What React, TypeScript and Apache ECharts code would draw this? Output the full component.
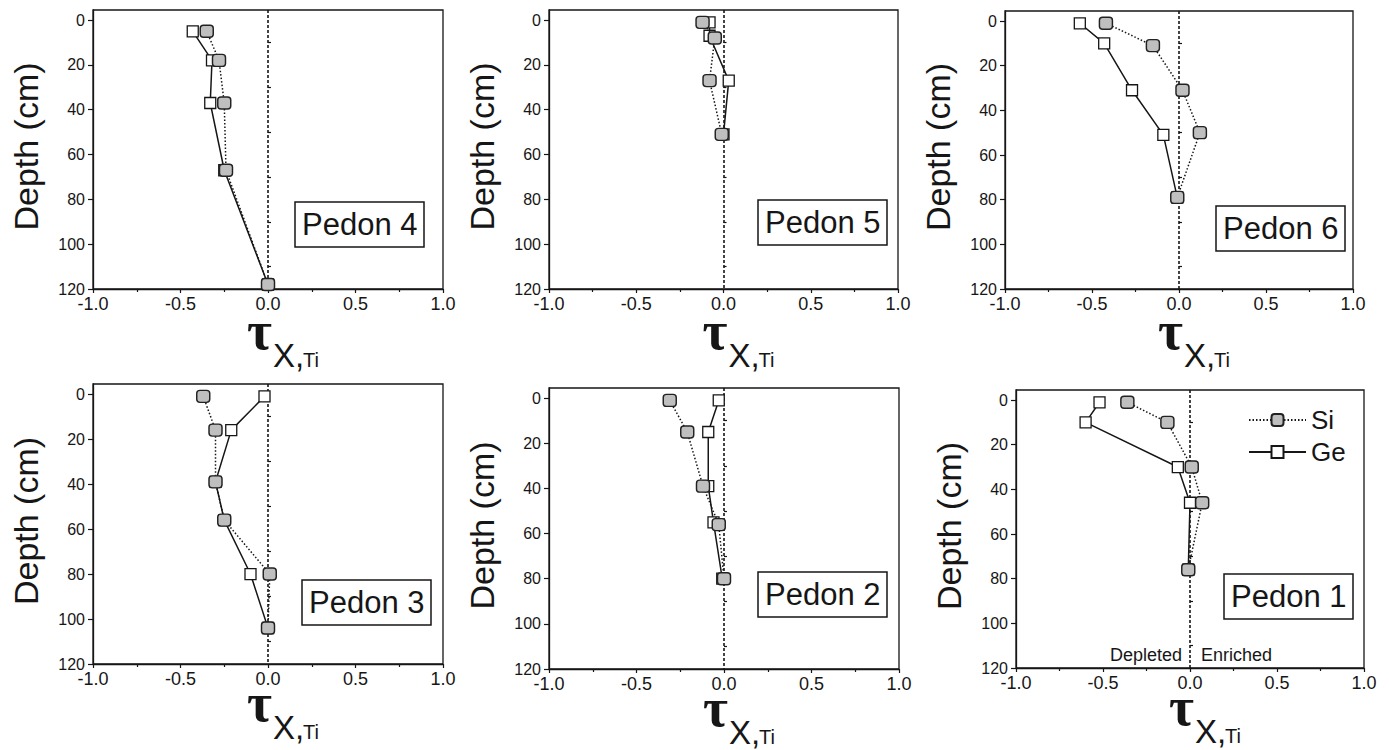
import React, { useEffect, useRef } from "react";
import * as echarts from "echarts";

// ---- data (tau X,Ti vs depth in cm) ----
const pedon4Si = [[-0.35, 5], [-0.28, 18], [-0.25, 37], [-0.24, 67], [0.0, 118]];
const pedon4Ge = [[-0.43, 5], [-0.32, 18], [-0.33, 37], [-0.25, 67], [0.0, 118]];

const pedon5Si = [[-0.12, 1], [-0.05, 8], [-0.08, 27], [-0.01, 51]];
const pedon5Ge = [[-0.08, 1], [-0.08, 7], [0.03, 27], [0.0, 51]];

const pedon6Si = [[-0.42, 1], [-0.15, 11], [0.02, 31], [0.12, 50], [-0.01, 79]];
const pedon6Ge = [[-0.57, 1], [-0.43, 10], [-0.27, 31], [-0.09, 51], [-0.01, 79]];

const pedon3Si = [[-0.37, 1], [-0.3, 16], [-0.3, 39], [-0.25, 56], [0.01, 80], [0.0, 104]];
const pedon3Ge = [[-0.02, 1], [-0.21, 16], [-0.3, 39], [-0.25, 56], [-0.1, 80], [0.0, 104]];

const pedon2Si = [[-0.31, 1], [-0.21, 15], [-0.12, 39], [-0.03, 56], [0.0, 80]];
const pedon2Ge = [[-0.03, 1], [-0.09, 15], [-0.09, 39], [-0.06, 55], [-0.01, 80]];

const pedon1Si = [[-0.36, 1], [-0.13, 10], [0.01, 30], [0.07, 46], [-0.01, 76]];
const pedon1Ge = [[-0.52, 1], [-0.6, 10], [-0.07, 30], [0.0, 46], [-0.01, 76]];

const Y_LABELS = [0, 20, 40, 60, 80, 100, 120];
const Y_MINOR = [10, 30, 50, 70, 90, 110];
const X_MIN = -1;
const X_MAX = 1;
const X_STEP = 0.5;
const Y_MIN = -4.5;
const Y_MAX = 120;

const panels = [
  { name: "Pedon 4", si: pedon4Si, ge: pedon4Ge, grid: { left: 93, top: 10, width: 350, height: 279 }, box: { left: 295, top: 202 } },
  { name: "Pedon 5", si: pedon5Si, ge: pedon5Ge, grid: { left: 549, top: 10, width: 349, height: 279 }, box: { left: 758, top: 200 } },
  { name: "Pedon 6", si: pedon6Si, ge: pedon6Ge, grid: { left: 1005, top: 11, width: 348, height: 278 }, box: { left: 1216, top: 206 } },
  { name: "Pedon 3", si: pedon3Si, ge: pedon3Ge, grid: { left: 93, top: 384, width: 350, height: 280 }, box: { left: 302, top: 580 } },
  { name: "Pedon 2", si: pedon2Si, ge: pedon2Ge, grid: { left: 549, top: 388, width: 350, height: 281 }, box: { left: 758, top: 572 } },
  { name: "Pedon 1", si: pedon1Si, ge: pedon1Ge, grid: { left: 1016, top: 390, width: 348, height: 278 }, box: { left: 1224, top: 574 } },
];

const FONT = "'Liberation Sans', Arial, sans-serif";
const INK = "#161616";

function buildOption() {
  const grid: any[] = [];
  const xAxis: any[] = [];
  const yAxis: any[] = [];
  const series: any[] = [];
  const title: any[] = [];
  const graphic: any[] = [];

  panels.forEach((p, i) => {
    grid.push({
      ...p.grid,
      show: true,
      borderColor: INK,
      borderWidth: 1.3,
      backgroundColor: "transparent",
    });
    xAxis.push({
      type: "value",
      gridIndex: i,
      min: X_MIN,
      max: X_MAX,
      interval: X_STEP,
      axisLine: { show: true, onZero: false, lineStyle: { color: INK, width: 1.3 } },
      axisTick: { show: true, inside: false, length: 4, lineStyle: { color: INK, width: 1.2 } },
      minorTick: { show: true, splitNumber: 2, length: 3, lineStyle: { color: INK, width: 1.2 } },
      splitLine: { show: false },
      axisLabel: {
        color: INK,
        fontSize: 18,
        fontFamily: FONT,
        margin: 6,
        formatter: (v: number) => v.toFixed(1),
      },
    });
    yAxis.push({
      type: "value",
      gridIndex: i,
      min: Y_MIN,
      max: Y_MAX,
      inverse: true,
      axisLine: { show: true, onZero: false, lineStyle: { color: INK, width: 1.3 } },
      axisTick: { show: true, inside: false, length: 5, customValues: Y_LABELS, lineStyle: { color: INK, width: 1.2 } },
      splitLine: { show: false },
      axisLabel: {
        color: INK,
        fontSize: 16,
        fontFamily: FONT,
        margin: 8,
        customValues: Y_LABELS,
      },
      name: "Depth (cm)",
      nameLocation: "middle",
      nameGap: 50,
      nameTextStyle: { fontSize: 34, fontFamily: FONT, color: INK, padding: [0, 0, 0, 6] },
    });
    // minor ticks axis
    yAxis.push({
      type: "value",
      gridIndex: i,
      min: Y_MIN,
      max: Y_MAX,
      inverse: true,
      axisLine: { show: false },
      axisTick: { show: true, inside: false, length: 3, customValues: Y_MINOR, lineStyle: { color: INK, width: 1.2 } },
      axisLabel: { show: false },
      splitLine: { show: false },
    });

    const yIdx = i * 2;
    series.push({
      name: "Ge",
      type: "line",
      xAxisIndex: i,
      yAxisIndex: yIdx,
      data: p.ge,
      symbol: "rect",
      symbolSize: 11,
      showAllSymbol: true,
      lineStyle: { color: INK, width: 1.5, type: "solid" },
      itemStyle: { color: "#ffffff", borderColor: INK, borderWidth: 1.3 },
      z: 3,
      markLine: {
        silent: true,
        symbol: ["none", "none"],
        label: { show: false },
        lineStyle: { color: INK, width: 1.6, type: [3, 2] },
        data: [{ xAxis: 0 }],
        z: 1,
      },
    });
    series.push({
      name: "Si",
      type: "line",
      xAxisIndex: i,
      yAxisIndex: yIdx,
      data: p.si,
      symbol: "roundRect",
      symbolSize: [13, 12],
      showAllSymbol: true,
      lineStyle: { color: INK, width: 1.5, type: [1.5, 2] },
      itemStyle: { color: "#bfbfbf", borderColor: "#222", borderWidth: 1.4 },
      z: 4,
    });

    title.push({
      text: p.name,
      left: p.box.left,
      top: p.box.top,
      padding: [7, 7, 7, 7],
      borderColor: INK,
      borderWidth: 1.5,
      textStyle: { fontSize: 31, fontWeight: "normal", fontFamily: FONT, color: INK },
    });

    const cx = p.grid.left + p.grid.width / 2;
    const by = p.grid.top + p.grid.height;
    const lift = i >= 3 ? 3 : 0; // keep the lower row's subscripts inside the page
    graphic.push({
      type: "text",
      x: cx - 21,
      y: by + 42 - lift,
      style: {
        text: "τ",
        font: "bold 54px 'Liberation Serif', 'DejaVu Serif', serif",
        lineHeight: 34,
        fill: INK,
        textAlign: "left",
        textVerticalAlign: "middle",
      },
    });
    graphic.push({
      type: "text",
      x: cx + 5,
      y: by + 66 - lift,
      style: {
        text: "X,",
        font: "33px " + FONT,
        lineHeight: 26,
        fill: INK,
        textAlign: "left",
        textVerticalAlign: "middle",
      },
    });
    graphic.push({
      type: "text",
      x: cx + 35,
      y: by + 71 - lift,
      style: {
        text: "Ti",
        font: "20px " + FONT,
        lineHeight: 16,
        fill: INK,
        textAlign: "left",
        textVerticalAlign: "middle",
      },
    });

    if (i === 5) {
      const x0 = cx; // zero of the x axis sits mid-grid
      graphic.push({
        type: "text",
        x: x0 - 8,
        y: by - 13,
        style: { text: "Depleted", font: "18px " + FONT, fill: INK, textAlign: "right", textVerticalAlign: "middle" },
      });
      graphic.push({
        type: "text",
        x: x0 + 11,
        y: by - 13,
        style: { text: "Enriched", font: "18px " + FONT, fill: INK, textAlign: "left", textVerticalAlign: "middle" },
      });
    }
  });

  return {
    animation: false,
    backgroundColor: "#ffffff",
    grid,
    xAxis,
    yAxis,
    series,
    title,
    graphic,
    legend: {
      data: ["Si", "Ge"],
      orient: "vertical",
      left: 1243,
      top: 402,
      itemWidth: 57,
      itemHeight: 15,
      itemGap: 6,
      textStyle: { fontSize: 26, fontFamily: FONT, color: INK },
      selectedMode: false,
    },
  };
}

export default function App() {
  const ref = useRef<HTMLDivElement>(null);
  useEffect(() => {
    if (!ref.current) return;
    const chart = echarts.init(ref.current, null, { renderer: "svg" });
    chart.setOption(buildOption() as any);
    return () => chart.dispose();
  }, []);
  return (
    <div
      ref={ref}
      style={{ position: "absolute", left: 0, top: 0, width: 1389, height: 750, background: "#fff" }}
    />
  );
}
